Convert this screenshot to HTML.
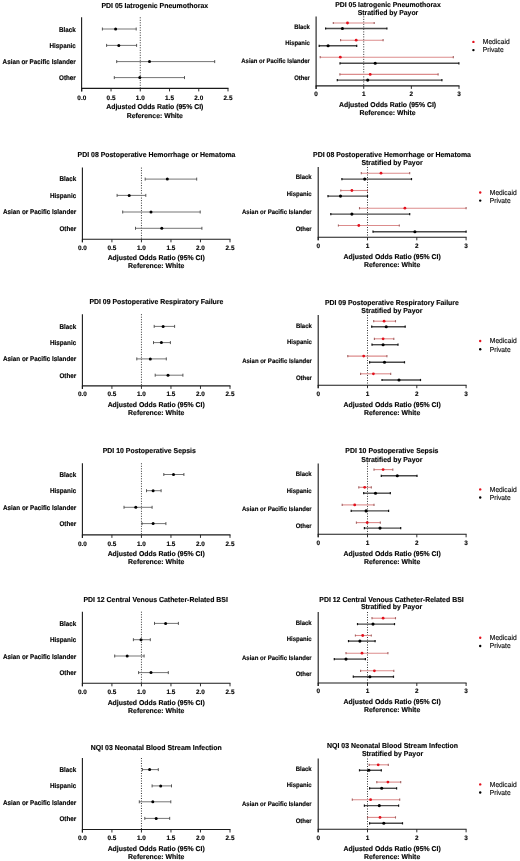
<!DOCTYPE html>
<html><head><meta charset="utf-8"><style>
html,body{margin:0;padding:0;background:#fff;width:520px;height:861px;overflow:hidden;}
svg{display:block;font-family:"Liberation Sans", sans-serif;will-change:transform;text-rendering:geometricPrecision;}
text{stroke:#000;stroke-width:0.15px;}
</style></head><body>
<svg width="520" height="861" viewBox="0 0 520 861">
<text x="154.80" y="7.98" font-size="7.2" text-anchor="middle" font-weight="bold" fill="#000" textLength="106.67" lengthAdjust="spacingAndGlyphs">PDI 05 Iatrogenic Pneumothorax</text>
<line x1="81.60" y1="17.30" x2="81.60" y2="91.40" stroke="#1a1a1a" stroke-width="1.1"/>
<line x1="81.10" y1="88.40" x2="228.50" y2="88.40" stroke="#1a1a1a" stroke-width="1.1"/>
<line x1="81.80" y1="88.40" x2="81.80" y2="91.40" stroke="#1a1a1a" stroke-width="0.9"/>
<text x="81.80" y="99.64" font-size="6.5" text-anchor="middle" font-weight="bold" fill="#000" textLength="8.90" lengthAdjust="spacingAndGlyphs">0.0</text>
<line x1="111.04" y1="88.40" x2="111.04" y2="91.40" stroke="#1a1a1a" stroke-width="0.9"/>
<text x="111.04" y="99.64" font-size="6.5" text-anchor="middle" font-weight="bold" fill="#000" textLength="8.90" lengthAdjust="spacingAndGlyphs">0.5</text>
<line x1="140.28" y1="88.40" x2="140.28" y2="91.40" stroke="#1a1a1a" stroke-width="0.9"/>
<text x="140.28" y="99.64" font-size="6.5" text-anchor="middle" font-weight="bold" fill="#000" textLength="8.90" lengthAdjust="spacingAndGlyphs">1.0</text>
<line x1="169.52" y1="88.40" x2="169.52" y2="91.40" stroke="#1a1a1a" stroke-width="0.9"/>
<text x="169.52" y="99.64" font-size="6.5" text-anchor="middle" font-weight="bold" fill="#000" textLength="8.90" lengthAdjust="spacingAndGlyphs">1.5</text>
<line x1="198.76" y1="88.40" x2="198.76" y2="91.40" stroke="#1a1a1a" stroke-width="0.9"/>
<text x="198.76" y="99.64" font-size="6.5" text-anchor="middle" font-weight="bold" fill="#000" textLength="8.90" lengthAdjust="spacingAndGlyphs">2.0</text>
<line x1="228.00" y1="88.40" x2="228.00" y2="91.40" stroke="#1a1a1a" stroke-width="0.9"/>
<text x="228.00" y="99.64" font-size="6.5" text-anchor="middle" font-weight="bold" fill="#000" textLength="8.90" lengthAdjust="spacingAndGlyphs">2.5</text>
<line x1="140.28" y1="17.30" x2="140.28" y2="88.40" stroke="#333" stroke-width="1.0" stroke-dasharray="1 1.5"/>
<text x="154.80" y="109.41" font-size="7.0" text-anchor="middle" font-weight="bold" fill="#000" textLength="97.09" lengthAdjust="spacingAndGlyphs">Adjusted Odds Ratio (95% CI)</text>
<text x="154.80" y="117.91" font-size="7.0" text-anchor="middle" font-weight="bold" fill="#000" textLength="56.20" lengthAdjust="spacingAndGlyphs">Reference: White</text>
<text x="75.80" y="31.94" font-size="6.8" text-anchor="end" font-weight="bold" fill="#000" textLength="16.81" lengthAdjust="spacingAndGlyphs">Black</text>
<text x="75.80" y="47.84" font-size="6.8" text-anchor="end" font-weight="bold" fill="#000" textLength="26.26" lengthAdjust="spacingAndGlyphs">Hispanic</text>
<text x="75.80" y="63.84" font-size="6.8" text-anchor="end" font-weight="bold" fill="#000" textLength="73.18" lengthAdjust="spacingAndGlyphs">Asian or Pacific Islander</text>
<text x="75.80" y="80.24" font-size="6.8" text-anchor="end" font-weight="bold" fill="#000" textLength="16.80" lengthAdjust="spacingAndGlyphs">Other</text>
<line x1="102.40" y1="29.00" x2="136.20" y2="29.00" stroke="#6e6e6e" stroke-width="0.95"/>
<line x1="102.40" y1="27.50" x2="102.40" y2="30.50" stroke="#444" stroke-width="0.9"/>
<line x1="136.20" y1="27.50" x2="136.20" y2="30.50" stroke="#444" stroke-width="0.9"/>
<circle cx="115.60" cy="29.00" r="1.5" fill="#000"/>
<line x1="106.60" y1="45.40" x2="136.60" y2="45.40" stroke="#6e6e6e" stroke-width="0.95"/>
<line x1="106.60" y1="43.90" x2="106.60" y2="46.90" stroke="#444" stroke-width="0.9"/>
<line x1="136.60" y1="43.90" x2="136.60" y2="46.90" stroke="#444" stroke-width="0.9"/>
<circle cx="118.80" cy="45.40" r="1.5" fill="#000"/>
<line x1="116.70" y1="61.60" x2="214.70" y2="61.60" stroke="#6e6e6e" stroke-width="0.95"/>
<line x1="116.70" y1="60.10" x2="116.70" y2="63.10" stroke="#444" stroke-width="0.9"/>
<line x1="214.70" y1="60.10" x2="214.70" y2="63.10" stroke="#444" stroke-width="0.9"/>
<circle cx="149.50" cy="61.60" r="1.5" fill="#000"/>
<line x1="114.30" y1="77.60" x2="184.50" y2="77.60" stroke="#6e6e6e" stroke-width="0.95"/>
<line x1="114.30" y1="76.10" x2="114.30" y2="79.10" stroke="#444" stroke-width="0.9"/>
<line x1="184.50" y1="76.10" x2="184.50" y2="79.10" stroke="#444" stroke-width="0.9"/>
<circle cx="139.80" cy="77.60" r="1.5" fill="#000"/>
<text x="388.00" y="7.04" font-size="7.1" text-anchor="middle" font-weight="bold" fill="#000" textLength="105.44" lengthAdjust="spacingAndGlyphs">PDI 05 Iatrogenic Pneumothorax</text>
<text x="388.00" y="15.24" font-size="7.1" text-anchor="middle" font-weight="bold" fill="#000" textLength="60.53" lengthAdjust="spacingAndGlyphs">Stratified by Payor</text>
<line x1="316.10" y1="16.40" x2="316.10" y2="88.90" stroke="#1a1a1a" stroke-width="1.1"/>
<line x1="315.60" y1="85.90" x2="459.50" y2="85.90" stroke="#1a1a1a" stroke-width="1.1"/>
<line x1="316.10" y1="85.90" x2="316.10" y2="88.90" stroke="#1a1a1a" stroke-width="0.9"/>
<text x="316.10" y="96.24" font-size="6.5" text-anchor="middle" font-weight="bold" fill="#000" textLength="3.56" lengthAdjust="spacingAndGlyphs">0</text>
<line x1="363.73" y1="85.90" x2="363.73" y2="88.90" stroke="#1a1a1a" stroke-width="0.9"/>
<text x="363.73" y="96.24" font-size="6.5" text-anchor="middle" font-weight="bold" fill="#000" textLength="3.56" lengthAdjust="spacingAndGlyphs">1</text>
<line x1="411.37" y1="85.90" x2="411.37" y2="88.90" stroke="#1a1a1a" stroke-width="0.9"/>
<text x="411.37" y="96.24" font-size="6.5" text-anchor="middle" font-weight="bold" fill="#000" textLength="3.56" lengthAdjust="spacingAndGlyphs">2</text>
<line x1="459.00" y1="85.90" x2="459.00" y2="88.90" stroke="#1a1a1a" stroke-width="0.9"/>
<text x="459.00" y="96.24" font-size="6.5" text-anchor="middle" font-weight="bold" fill="#000" textLength="3.56" lengthAdjust="spacingAndGlyphs">3</text>
<line x1="363.73" y1="16.40" x2="363.73" y2="85.90" stroke="#333" stroke-width="1.0" stroke-dasharray="1 1.5"/>
<text x="387.55" y="106.91" font-size="7.0" text-anchor="middle" font-weight="bold" fill="#000" textLength="97.09" lengthAdjust="spacingAndGlyphs">Adjusted Odds Ratio (95% CI)</text>
<text x="387.55" y="115.41" font-size="7.0" text-anchor="middle" font-weight="bold" fill="#000" textLength="56.20" lengthAdjust="spacingAndGlyphs">Reference: White</text>
<text x="309.90" y="29.07" font-size="6.6" text-anchor="end" font-weight="bold" fill="#000" textLength="15.74" lengthAdjust="spacingAndGlyphs">Black</text>
<text x="309.90" y="44.97" font-size="6.6" text-anchor="end" font-weight="bold" fill="#000" textLength="24.59" lengthAdjust="spacingAndGlyphs">Hispanic</text>
<text x="309.90" y="63.17" font-size="6.6" text-anchor="end" font-weight="bold" fill="#000" textLength="68.53" lengthAdjust="spacingAndGlyphs">Asian or Pacific Islander</text>
<text x="309.90" y="79.57" font-size="6.6" text-anchor="end" font-weight="bold" fill="#000" textLength="15.74" lengthAdjust="spacingAndGlyphs">Other</text>
<line x1="333.30" y1="23.00" x2="374.20" y2="23.00" stroke="#dc8c8c" stroke-width="1.1"/>
<line x1="333.30" y1="21.90" x2="333.30" y2="24.10" stroke="#a06060" stroke-width="1.1"/>
<line x1="374.20" y1="21.90" x2="374.20" y2="24.10" stroke="#a06060" stroke-width="1.1"/>
<circle cx="347.50" cy="23.00" r="1.4" fill="#e3101c"/>
<line x1="325.60" y1="28.50" x2="386.90" y2="28.50" stroke="#4a4a4a" stroke-width="1.4"/>
<line x1="325.60" y1="27.40" x2="325.60" y2="29.60" stroke="#111" stroke-width="1.2"/>
<line x1="386.90" y1="27.40" x2="386.90" y2="29.60" stroke="#111" stroke-width="1.2"/>
<circle cx="342.40" cy="28.50" r="1.55" fill="#000"/>
<line x1="340.60" y1="40.20" x2="383.10" y2="40.20" stroke="#dc8c8c" stroke-width="1.1"/>
<line x1="340.60" y1="39.10" x2="340.60" y2="41.30" stroke="#a06060" stroke-width="1.1"/>
<line x1="383.10" y1="39.10" x2="383.10" y2="41.30" stroke="#a06060" stroke-width="1.1"/>
<circle cx="356.20" cy="40.20" r="1.4" fill="#e3101c"/>
<line x1="319.20" y1="45.80" x2="356.70" y2="45.80" stroke="#4a4a4a" stroke-width="1.4"/>
<line x1="319.20" y1="44.70" x2="319.20" y2="46.90" stroke="#111" stroke-width="1.2"/>
<line x1="356.70" y1="44.70" x2="356.70" y2="46.90" stroke="#111" stroke-width="1.2"/>
<circle cx="328.10" cy="45.80" r="1.55" fill="#000"/>
<line x1="320.20" y1="57.20" x2="453.30" y2="57.20" stroke="#dc8c8c" stroke-width="1.1"/>
<line x1="320.20" y1="56.10" x2="320.20" y2="58.30" stroke="#a06060" stroke-width="1.1"/>
<line x1="453.30" y1="56.10" x2="453.30" y2="58.30" stroke="#a06060" stroke-width="1.1"/>
<circle cx="340.30" cy="57.20" r="1.4" fill="#e3101c"/>
<line x1="340.00" y1="63.30" x2="458.90" y2="63.30" stroke="#4a4a4a" stroke-width="1.4"/>
<line x1="340.00" y1="62.20" x2="340.00" y2="64.40" stroke="#111" stroke-width="1.2"/>
<line x1="458.90" y1="62.20" x2="458.90" y2="64.40" stroke="#111" stroke-width="1.2"/>
<circle cx="375.20" cy="63.30" r="1.55" fill="#000"/>
<line x1="339.90" y1="74.40" x2="438.10" y2="74.40" stroke="#dc8c8c" stroke-width="1.1"/>
<line x1="339.90" y1="73.30" x2="339.90" y2="75.50" stroke="#a06060" stroke-width="1.1"/>
<line x1="438.10" y1="73.30" x2="438.10" y2="75.50" stroke="#a06060" stroke-width="1.1"/>
<circle cx="370.20" cy="74.40" r="1.4" fill="#e3101c"/>
<line x1="337.30" y1="80.10" x2="441.90" y2="80.10" stroke="#4a4a4a" stroke-width="1.4"/>
<line x1="337.30" y1="79.00" x2="337.30" y2="81.20" stroke="#111" stroke-width="1.2"/>
<line x1="441.90" y1="79.00" x2="441.90" y2="81.20" stroke="#111" stroke-width="1.2"/>
<circle cx="367.70" cy="80.10" r="1.55" fill="#000"/>
<circle cx="473.40" cy="41.90" r="1.2" fill="#e3101c"/>
<circle cx="473.40" cy="50.10" r="1.2" fill="#000"/>
<text x="482.80" y="44.38" font-size="7.2" text-anchor="start" font-weight="normal" fill="#111" textLength="26.81" lengthAdjust="spacingAndGlyphs">Medicaid</text>
<text x="482.80" y="51.88" font-size="7.2" text-anchor="start" font-weight="normal" fill="#111" textLength="20.85" lengthAdjust="spacingAndGlyphs">Private</text>
<text x="156.50" y="157.38" font-size="7.2" text-anchor="middle" font-weight="bold" fill="#000" textLength="157.90" lengthAdjust="spacingAndGlyphs">PDI 08 Postoperative Hemorrhage or Hematoma</text>
<line x1="82.40" y1="167.60" x2="82.40" y2="242.30" stroke="#1a1a1a" stroke-width="1.1"/>
<line x1="81.90" y1="239.30" x2="230.50" y2="239.30" stroke="#1a1a1a" stroke-width="1.1"/>
<line x1="82.40" y1="239.30" x2="82.40" y2="242.30" stroke="#1a1a1a" stroke-width="0.9"/>
<text x="82.40" y="249.54" font-size="6.5" text-anchor="middle" font-weight="bold" fill="#000" textLength="8.90" lengthAdjust="spacingAndGlyphs">0.0</text>
<line x1="111.92" y1="239.30" x2="111.92" y2="242.30" stroke="#1a1a1a" stroke-width="0.9"/>
<text x="111.92" y="249.54" font-size="6.5" text-anchor="middle" font-weight="bold" fill="#000" textLength="8.90" lengthAdjust="spacingAndGlyphs">0.5</text>
<line x1="141.44" y1="239.30" x2="141.44" y2="242.30" stroke="#1a1a1a" stroke-width="0.9"/>
<text x="141.44" y="249.54" font-size="6.5" text-anchor="middle" font-weight="bold" fill="#000" textLength="8.90" lengthAdjust="spacingAndGlyphs">1.0</text>
<line x1="170.96" y1="239.30" x2="170.96" y2="242.30" stroke="#1a1a1a" stroke-width="0.9"/>
<text x="170.96" y="249.54" font-size="6.5" text-anchor="middle" font-weight="bold" fill="#000" textLength="8.90" lengthAdjust="spacingAndGlyphs">1.5</text>
<line x1="200.48" y1="239.30" x2="200.48" y2="242.30" stroke="#1a1a1a" stroke-width="0.9"/>
<text x="200.48" y="249.54" font-size="6.5" text-anchor="middle" font-weight="bold" fill="#000" textLength="8.90" lengthAdjust="spacingAndGlyphs">2.0</text>
<line x1="230.00" y1="239.30" x2="230.00" y2="242.30" stroke="#1a1a1a" stroke-width="0.9"/>
<text x="230.00" y="249.54" font-size="6.5" text-anchor="middle" font-weight="bold" fill="#000" textLength="8.90" lengthAdjust="spacingAndGlyphs">2.5</text>
<line x1="141.44" y1="167.60" x2="141.44" y2="239.30" stroke="#333" stroke-width="1.0" stroke-dasharray="1 1.5"/>
<text x="156.20" y="260.11" font-size="7.0" text-anchor="middle" font-weight="bold" fill="#000" textLength="97.09" lengthAdjust="spacingAndGlyphs">Adjusted Odds Ratio (95% CI)</text>
<text x="156.20" y="268.01" font-size="7.0" text-anchor="middle" font-weight="bold" fill="#000" textLength="56.20" lengthAdjust="spacingAndGlyphs">Reference: White</text>
<text x="76.20" y="181.14" font-size="6.8" text-anchor="end" font-weight="bold" fill="#000" textLength="16.81" lengthAdjust="spacingAndGlyphs">Black</text>
<text x="76.20" y="197.94" font-size="6.8" text-anchor="end" font-weight="bold" fill="#000" textLength="26.26" lengthAdjust="spacingAndGlyphs">Hispanic</text>
<text x="76.20" y="214.04" font-size="6.8" text-anchor="end" font-weight="bold" fill="#000" textLength="73.18" lengthAdjust="spacingAndGlyphs">Asian or Pacific Islander</text>
<text x="76.20" y="230.64" font-size="6.8" text-anchor="end" font-weight="bold" fill="#000" textLength="16.80" lengthAdjust="spacingAndGlyphs">Other</text>
<line x1="145.20" y1="179.10" x2="196.70" y2="179.10" stroke="#6e6e6e" stroke-width="0.95"/>
<line x1="145.20" y1="177.60" x2="145.20" y2="180.60" stroke="#444" stroke-width="0.9"/>
<line x1="196.70" y1="177.60" x2="196.70" y2="180.60" stroke="#444" stroke-width="0.9"/>
<circle cx="167.30" cy="179.10" r="1.5" fill="#000"/>
<line x1="117.10" y1="195.40" x2="145.80" y2="195.40" stroke="#6e6e6e" stroke-width="0.95"/>
<line x1="117.10" y1="193.90" x2="117.10" y2="196.90" stroke="#444" stroke-width="0.9"/>
<line x1="145.80" y1="193.90" x2="145.80" y2="196.90" stroke="#444" stroke-width="0.9"/>
<circle cx="129.20" cy="195.40" r="1.5" fill="#000"/>
<line x1="122.70" y1="212.00" x2="200.20" y2="212.00" stroke="#6e6e6e" stroke-width="0.95"/>
<line x1="122.70" y1="210.50" x2="122.70" y2="213.50" stroke="#444" stroke-width="0.9"/>
<line x1="200.20" y1="210.50" x2="200.20" y2="213.50" stroke="#444" stroke-width="0.9"/>
<circle cx="151.00" cy="212.00" r="1.5" fill="#000"/>
<line x1="135.50" y1="228.30" x2="201.90" y2="228.30" stroke="#6e6e6e" stroke-width="0.95"/>
<line x1="135.50" y1="226.80" x2="135.50" y2="229.80" stroke="#444" stroke-width="0.9"/>
<line x1="201.90" y1="226.80" x2="201.90" y2="229.80" stroke="#444" stroke-width="0.9"/>
<circle cx="161.80" cy="228.30" r="1.5" fill="#000"/>
<text x="392.00" y="156.98" font-size="7.2" text-anchor="middle" font-weight="bold" fill="#000" textLength="157.90" lengthAdjust="spacingAndGlyphs">PDI 08 Postoperative Hemorrhage or Hematoma</text>
<text x="392.00" y="165.08" font-size="7.2" text-anchor="middle" font-weight="bold" fill="#000" textLength="61.23" lengthAdjust="spacingAndGlyphs">Stratified by Payor</text>
<line x1="318.20" y1="167.00" x2="318.20" y2="240.30" stroke="#1a1a1a" stroke-width="1.1"/>
<line x1="317.70" y1="237.30" x2="466.60" y2="237.30" stroke="#1a1a1a" stroke-width="1.1"/>
<line x1="318.20" y1="237.30" x2="318.20" y2="240.30" stroke="#1a1a1a" stroke-width="0.9"/>
<text x="318.20" y="247.84" font-size="6.5" text-anchor="middle" font-weight="bold" fill="#000" textLength="3.56" lengthAdjust="spacingAndGlyphs">0</text>
<line x1="367.50" y1="237.30" x2="367.50" y2="240.30" stroke="#1a1a1a" stroke-width="0.9"/>
<text x="367.50" y="247.84" font-size="6.5" text-anchor="middle" font-weight="bold" fill="#000" textLength="3.56" lengthAdjust="spacingAndGlyphs">1</text>
<line x1="416.80" y1="237.30" x2="416.80" y2="240.30" stroke="#1a1a1a" stroke-width="0.9"/>
<text x="416.80" y="247.84" font-size="6.5" text-anchor="middle" font-weight="bold" fill="#000" textLength="3.56" lengthAdjust="spacingAndGlyphs">2</text>
<line x1="466.10" y1="237.30" x2="466.10" y2="240.30" stroke="#1a1a1a" stroke-width="0.9"/>
<text x="466.10" y="247.84" font-size="6.5" text-anchor="middle" font-weight="bold" fill="#000" textLength="3.56" lengthAdjust="spacingAndGlyphs">3</text>
<line x1="367.50" y1="167.00" x2="367.50" y2="237.30" stroke="#333" stroke-width="1.0" stroke-dasharray="1 1.5"/>
<text x="392.15" y="259.01" font-size="7.0" text-anchor="middle" font-weight="bold" fill="#000" textLength="97.09" lengthAdjust="spacingAndGlyphs">Adjusted Odds Ratio (95% CI)</text>
<text x="392.15" y="267.01" font-size="7.0" text-anchor="middle" font-weight="bold" fill="#000" textLength="56.20" lengthAdjust="spacingAndGlyphs">Reference: White</text>
<text x="311.70" y="179.07" font-size="6.6" text-anchor="end" font-weight="bold" fill="#000" textLength="16.01" lengthAdjust="spacingAndGlyphs">Black</text>
<text x="311.70" y="195.97" font-size="6.6" text-anchor="end" font-weight="bold" fill="#000" textLength="25.01" lengthAdjust="spacingAndGlyphs">Hispanic</text>
<text x="311.70" y="214.27" font-size="6.6" text-anchor="end" font-weight="bold" fill="#000" textLength="69.69" lengthAdjust="spacingAndGlyphs">Asian or Pacific Islander</text>
<text x="311.70" y="230.97" font-size="6.6" text-anchor="end" font-weight="bold" fill="#000" textLength="16.00" lengthAdjust="spacingAndGlyphs">Other</text>
<line x1="361.30" y1="173.20" x2="409.70" y2="173.20" stroke="#dc8c8c" stroke-width="1.1"/>
<line x1="361.30" y1="172.10" x2="361.30" y2="174.30" stroke="#a06060" stroke-width="1.1"/>
<line x1="409.70" y1="172.10" x2="409.70" y2="174.30" stroke="#a06060" stroke-width="1.1"/>
<circle cx="381.00" cy="173.20" r="1.4" fill="#e3101c"/>
<line x1="341.90" y1="179.10" x2="411.50" y2="179.10" stroke="#4a4a4a" stroke-width="1.4"/>
<line x1="341.90" y1="178.00" x2="341.90" y2="180.20" stroke="#111" stroke-width="1.2"/>
<line x1="411.50" y1="178.00" x2="411.50" y2="180.20" stroke="#111" stroke-width="1.2"/>
<circle cx="364.70" cy="179.10" r="1.55" fill="#000"/>
<line x1="340.80" y1="190.50" x2="367.50" y2="190.50" stroke="#dc8c8c" stroke-width="1.1"/>
<line x1="340.80" y1="189.40" x2="340.80" y2="191.60" stroke="#a06060" stroke-width="1.1"/>
<line x1="367.50" y1="189.40" x2="367.50" y2="191.60" stroke="#a06060" stroke-width="1.1"/>
<circle cx="351.90" cy="190.50" r="1.4" fill="#e3101c"/>
<line x1="328.00" y1="196.10" x2="367.50" y2="196.10" stroke="#4a4a4a" stroke-width="1.4"/>
<line x1="328.00" y1="195.00" x2="328.00" y2="197.20" stroke="#111" stroke-width="1.2"/>
<line x1="367.50" y1="195.00" x2="367.50" y2="197.20" stroke="#111" stroke-width="1.2"/>
<circle cx="340.50" cy="196.10" r="1.55" fill="#000"/>
<line x1="359.50" y1="208.20" x2="466.10" y2="208.20" stroke="#dc8c8c" stroke-width="1.1"/>
<line x1="359.50" y1="207.10" x2="359.50" y2="209.30" stroke="#a06060" stroke-width="1.1"/>
<line x1="466.10" y1="207.10" x2="466.10" y2="209.30" stroke="#a06060" stroke-width="1.1"/>
<circle cx="404.90" cy="208.20" r="1.4" fill="#e3101c"/>
<line x1="330.80" y1="214.10" x2="409.70" y2="214.10" stroke="#4a4a4a" stroke-width="1.4"/>
<line x1="330.80" y1="213.00" x2="330.80" y2="215.20" stroke="#111" stroke-width="1.2"/>
<line x1="409.70" y1="213.00" x2="409.70" y2="215.20" stroke="#111" stroke-width="1.2"/>
<circle cx="351.90" cy="214.10" r="1.55" fill="#000"/>
<line x1="338.40" y1="225.50" x2="399.30" y2="225.50" stroke="#dc8c8c" stroke-width="1.1"/>
<line x1="338.40" y1="224.40" x2="338.40" y2="226.60" stroke="#a06060" stroke-width="1.1"/>
<line x1="399.30" y1="224.40" x2="399.30" y2="226.60" stroke="#a06060" stroke-width="1.1"/>
<circle cx="358.80" cy="225.50" r="1.4" fill="#e3101c"/>
<line x1="373.00" y1="231.70" x2="466.10" y2="231.70" stroke="#4a4a4a" stroke-width="1.4"/>
<line x1="373.00" y1="230.60" x2="373.00" y2="232.80" stroke="#111" stroke-width="1.2"/>
<line x1="466.10" y1="230.60" x2="466.10" y2="232.80" stroke="#111" stroke-width="1.2"/>
<circle cx="414.90" cy="231.70" r="1.55" fill="#000"/>
<circle cx="480.20" cy="192.50" r="1.2" fill="#e3101c"/>
<circle cx="480.20" cy="200.60" r="1.2" fill="#000"/>
<text x="489.80" y="194.98" font-size="7.2" text-anchor="start" font-weight="normal" fill="#111" textLength="26.81" lengthAdjust="spacingAndGlyphs">Medicaid</text>
<text x="489.80" y="203.08" font-size="7.2" text-anchor="start" font-weight="normal" fill="#111" textLength="20.85" lengthAdjust="spacingAndGlyphs">Private</text>
<text x="156.40" y="304.18" font-size="7.2" text-anchor="middle" font-weight="bold" fill="#000" textLength="134.03" lengthAdjust="spacingAndGlyphs">PDI 09 Postoperative Respiratory Failure</text>
<line x1="82.40" y1="314.20" x2="82.40" y2="388.90" stroke="#1a1a1a" stroke-width="1.1"/>
<line x1="81.90" y1="385.90" x2="230.50" y2="385.90" stroke="#1a1a1a" stroke-width="1.1"/>
<line x1="82.40" y1="385.90" x2="82.40" y2="388.90" stroke="#1a1a1a" stroke-width="0.9"/>
<text x="82.40" y="396.04" font-size="6.5" text-anchor="middle" font-weight="bold" fill="#000" textLength="8.90" lengthAdjust="spacingAndGlyphs">0.0</text>
<line x1="111.92" y1="385.90" x2="111.92" y2="388.90" stroke="#1a1a1a" stroke-width="0.9"/>
<text x="111.92" y="396.04" font-size="6.5" text-anchor="middle" font-weight="bold" fill="#000" textLength="8.90" lengthAdjust="spacingAndGlyphs">0.5</text>
<line x1="141.44" y1="385.90" x2="141.44" y2="388.90" stroke="#1a1a1a" stroke-width="0.9"/>
<text x="141.44" y="396.04" font-size="6.5" text-anchor="middle" font-weight="bold" fill="#000" textLength="8.90" lengthAdjust="spacingAndGlyphs">1.0</text>
<line x1="170.96" y1="385.90" x2="170.96" y2="388.90" stroke="#1a1a1a" stroke-width="0.9"/>
<text x="170.96" y="396.04" font-size="6.5" text-anchor="middle" font-weight="bold" fill="#000" textLength="8.90" lengthAdjust="spacingAndGlyphs">1.5</text>
<line x1="200.48" y1="385.90" x2="200.48" y2="388.90" stroke="#1a1a1a" stroke-width="0.9"/>
<text x="200.48" y="396.04" font-size="6.5" text-anchor="middle" font-weight="bold" fill="#000" textLength="8.90" lengthAdjust="spacingAndGlyphs">2.0</text>
<line x1="230.00" y1="385.90" x2="230.00" y2="388.90" stroke="#1a1a1a" stroke-width="0.9"/>
<text x="230.00" y="396.04" font-size="6.5" text-anchor="middle" font-weight="bold" fill="#000" textLength="8.90" lengthAdjust="spacingAndGlyphs">2.5</text>
<line x1="141.44" y1="314.20" x2="141.44" y2="385.90" stroke="#333" stroke-width="1.0" stroke-dasharray="1 1.5"/>
<text x="156.20" y="407.01" font-size="7.0" text-anchor="middle" font-weight="bold" fill="#000" textLength="97.09" lengthAdjust="spacingAndGlyphs">Adjusted Odds Ratio (95% CI)</text>
<text x="156.20" y="414.91" font-size="7.0" text-anchor="middle" font-weight="bold" fill="#000" textLength="56.20" lengthAdjust="spacingAndGlyphs">Reference: White</text>
<text x="76.20" y="328.74" font-size="6.8" text-anchor="end" font-weight="bold" fill="#000" textLength="16.81" lengthAdjust="spacingAndGlyphs">Black</text>
<text x="76.20" y="344.94" font-size="6.8" text-anchor="end" font-weight="bold" fill="#000" textLength="26.26" lengthAdjust="spacingAndGlyphs">Hispanic</text>
<text x="76.20" y="361.24" font-size="6.8" text-anchor="end" font-weight="bold" fill="#000" textLength="73.18" lengthAdjust="spacingAndGlyphs">Asian or Pacific Islander</text>
<text x="76.20" y="377.54" font-size="6.8" text-anchor="end" font-weight="bold" fill="#000" textLength="16.80" lengthAdjust="spacingAndGlyphs">Other</text>
<line x1="154.20" y1="326.40" x2="174.60" y2="326.40" stroke="#6e6e6e" stroke-width="0.95"/>
<line x1="154.20" y1="324.90" x2="154.20" y2="327.90" stroke="#444" stroke-width="0.9"/>
<line x1="174.60" y1="324.90" x2="174.60" y2="327.90" stroke="#444" stroke-width="0.9"/>
<circle cx="163.10" cy="326.40" r="1.5" fill="#000"/>
<line x1="153.50" y1="342.60" x2="170.40" y2="342.60" stroke="#6e6e6e" stroke-width="0.95"/>
<line x1="153.50" y1="341.10" x2="153.50" y2="344.10" stroke="#444" stroke-width="0.9"/>
<line x1="170.40" y1="341.10" x2="170.40" y2="344.10" stroke="#444" stroke-width="0.9"/>
<circle cx="161.40" cy="342.60" r="1.5" fill="#000"/>
<line x1="136.80" y1="358.90" x2="166.30" y2="358.90" stroke="#6e6e6e" stroke-width="0.95"/>
<line x1="136.80" y1="357.40" x2="136.80" y2="360.40" stroke="#444" stroke-width="0.9"/>
<line x1="166.30" y1="357.40" x2="166.30" y2="360.40" stroke="#444" stroke-width="0.9"/>
<circle cx="150.30" cy="358.90" r="1.5" fill="#000"/>
<line x1="155.20" y1="375.20" x2="182.90" y2="375.20" stroke="#6e6e6e" stroke-width="0.95"/>
<line x1="155.20" y1="373.70" x2="155.20" y2="376.70" stroke="#444" stroke-width="0.9"/>
<line x1="182.90" y1="373.70" x2="182.90" y2="376.70" stroke="#444" stroke-width="0.9"/>
<circle cx="168.00" cy="375.20" r="1.5" fill="#000"/>
<text x="391.90" y="305.28" font-size="7.2" text-anchor="middle" font-weight="bold" fill="#000" textLength="134.03" lengthAdjust="spacingAndGlyphs">PDI 09 Postoperative Respiratory Failure</text>
<text x="391.90" y="312.58" font-size="7.2" text-anchor="middle" font-weight="bold" fill="#000" textLength="61.23" lengthAdjust="spacingAndGlyphs">Stratified by Payor</text>
<line x1="318.20" y1="315.00" x2="318.20" y2="388.20" stroke="#1a1a1a" stroke-width="1.1"/>
<line x1="317.70" y1="385.20" x2="466.60" y2="385.20" stroke="#1a1a1a" stroke-width="1.1"/>
<line x1="318.20" y1="385.20" x2="318.20" y2="388.20" stroke="#1a1a1a" stroke-width="0.9"/>
<text x="318.20" y="396.34" font-size="6.5" text-anchor="middle" font-weight="bold" fill="#000" textLength="3.56" lengthAdjust="spacingAndGlyphs">0</text>
<line x1="367.50" y1="385.20" x2="367.50" y2="388.20" stroke="#1a1a1a" stroke-width="0.9"/>
<text x="367.50" y="396.34" font-size="6.5" text-anchor="middle" font-weight="bold" fill="#000" textLength="3.56" lengthAdjust="spacingAndGlyphs">1</text>
<line x1="416.80" y1="385.20" x2="416.80" y2="388.20" stroke="#1a1a1a" stroke-width="0.9"/>
<text x="416.80" y="396.34" font-size="6.5" text-anchor="middle" font-weight="bold" fill="#000" textLength="3.56" lengthAdjust="spacingAndGlyphs">2</text>
<line x1="466.10" y1="385.20" x2="466.10" y2="388.20" stroke="#1a1a1a" stroke-width="0.9"/>
<text x="466.10" y="396.34" font-size="6.5" text-anchor="middle" font-weight="bold" fill="#000" textLength="3.56" lengthAdjust="spacingAndGlyphs">3</text>
<line x1="367.50" y1="315.00" x2="367.50" y2="385.20" stroke="#333" stroke-width="1.0" stroke-dasharray="1 1.5"/>
<text x="392.15" y="407.31" font-size="7.0" text-anchor="middle" font-weight="bold" fill="#000" textLength="97.09" lengthAdjust="spacingAndGlyphs">Adjusted Odds Ratio (95% CI)</text>
<text x="392.15" y="415.31" font-size="7.0" text-anchor="middle" font-weight="bold" fill="#000" textLength="56.20" lengthAdjust="spacingAndGlyphs">Reference: White</text>
<text x="311.90" y="327.87" font-size="6.6" text-anchor="end" font-weight="bold" fill="#000" textLength="16.01" lengthAdjust="spacingAndGlyphs">Black</text>
<text x="311.90" y="344.27" font-size="6.6" text-anchor="end" font-weight="bold" fill="#000" textLength="25.01" lengthAdjust="spacingAndGlyphs">Hispanic</text>
<text x="311.90" y="363.07" font-size="6.6" text-anchor="end" font-weight="bold" fill="#000" textLength="69.69" lengthAdjust="spacingAndGlyphs">Asian or Pacific Islander</text>
<text x="311.90" y="379.67" font-size="6.6" text-anchor="end" font-weight="bold" fill="#000" textLength="16.00" lengthAdjust="spacingAndGlyphs">Other</text>
<line x1="373.70" y1="321.20" x2="395.50" y2="321.20" stroke="#dc8c8c" stroke-width="1.1"/>
<line x1="373.70" y1="320.10" x2="373.70" y2="322.30" stroke="#a06060" stroke-width="1.1"/>
<line x1="395.50" y1="320.10" x2="395.50" y2="322.30" stroke="#a06060" stroke-width="1.1"/>
<circle cx="384.10" cy="321.20" r="1.4" fill="#e3101c"/>
<line x1="371.70" y1="326.70" x2="405.20" y2="326.70" stroke="#4a4a4a" stroke-width="1.4"/>
<line x1="371.70" y1="325.60" x2="371.70" y2="327.80" stroke="#111" stroke-width="1.2"/>
<line x1="405.20" y1="325.60" x2="405.20" y2="327.80" stroke="#111" stroke-width="1.2"/>
<circle cx="386.20" cy="326.70" r="1.55" fill="#000"/>
<line x1="374.40" y1="338.80" x2="393.80" y2="338.80" stroke="#dc8c8c" stroke-width="1.1"/>
<line x1="374.40" y1="337.70" x2="374.40" y2="339.90" stroke="#a06060" stroke-width="1.1"/>
<line x1="393.80" y1="337.70" x2="393.80" y2="339.90" stroke="#a06060" stroke-width="1.1"/>
<circle cx="383.10" cy="338.80" r="1.4" fill="#e3101c"/>
<line x1="372.00" y1="344.70" x2="398.00" y2="344.70" stroke="#4a4a4a" stroke-width="1.4"/>
<line x1="372.00" y1="343.60" x2="372.00" y2="345.80" stroke="#111" stroke-width="1.2"/>
<line x1="398.00" y1="343.60" x2="398.00" y2="345.80" stroke="#111" stroke-width="1.2"/>
<circle cx="383.10" cy="344.70" r="1.55" fill="#000"/>
<line x1="347.80" y1="356.10" x2="386.90" y2="356.10" stroke="#dc8c8c" stroke-width="1.1"/>
<line x1="347.80" y1="355.00" x2="347.80" y2="357.20" stroke="#a06060" stroke-width="1.1"/>
<line x1="386.90" y1="355.00" x2="386.90" y2="357.20" stroke="#a06060" stroke-width="1.1"/>
<circle cx="363.70" cy="356.10" r="1.4" fill="#e3101c"/>
<line x1="369.60" y1="362.30" x2="404.50" y2="362.30" stroke="#4a4a4a" stroke-width="1.4"/>
<line x1="369.60" y1="361.20" x2="369.60" y2="363.40" stroke="#111" stroke-width="1.2"/>
<line x1="404.50" y1="361.20" x2="404.50" y2="363.40" stroke="#111" stroke-width="1.2"/>
<circle cx="384.50" cy="362.30" r="1.55" fill="#000"/>
<line x1="360.60" y1="373.80" x2="390.70" y2="373.80" stroke="#dc8c8c" stroke-width="1.1"/>
<line x1="360.60" y1="372.70" x2="360.60" y2="374.90" stroke="#a06060" stroke-width="1.1"/>
<line x1="390.70" y1="372.70" x2="390.70" y2="374.90" stroke="#a06060" stroke-width="1.1"/>
<circle cx="373.40" cy="373.80" r="1.4" fill="#e3101c"/>
<line x1="382.00" y1="380.00" x2="420.50" y2="380.00" stroke="#4a4a4a" stroke-width="1.4"/>
<line x1="382.00" y1="378.90" x2="382.00" y2="381.10" stroke="#111" stroke-width="1.2"/>
<line x1="420.50" y1="378.90" x2="420.50" y2="381.10" stroke="#111" stroke-width="1.2"/>
<circle cx="399.00" cy="380.00" r="1.55" fill="#000"/>
<circle cx="480.20" cy="341.00" r="1.2" fill="#e3101c"/>
<circle cx="480.20" cy="349.20" r="1.2" fill="#000"/>
<text x="489.80" y="343.48" font-size="7.2" text-anchor="start" font-weight="normal" fill="#111" textLength="26.81" lengthAdjust="spacingAndGlyphs">Medicaid</text>
<text x="489.80" y="351.68" font-size="7.2" text-anchor="start" font-weight="normal" fill="#111" textLength="20.85" lengthAdjust="spacingAndGlyphs">Private</text>
<text x="149.30" y="453.08" font-size="7.2" text-anchor="middle" font-weight="bold" fill="#000" textLength="93.21" lengthAdjust="spacingAndGlyphs">PDI 10 Postoperative Sepsis</text>
<line x1="82.40" y1="463.30" x2="82.40" y2="537.90" stroke="#1a1a1a" stroke-width="1.1"/>
<line x1="81.90" y1="534.90" x2="230.50" y2="534.90" stroke="#1a1a1a" stroke-width="1.1"/>
<line x1="82.40" y1="534.90" x2="82.40" y2="537.90" stroke="#1a1a1a" stroke-width="0.9"/>
<text x="82.40" y="545.84" font-size="6.5" text-anchor="middle" font-weight="bold" fill="#000" textLength="8.90" lengthAdjust="spacingAndGlyphs">0.0</text>
<line x1="111.92" y1="534.90" x2="111.92" y2="537.90" stroke="#1a1a1a" stroke-width="0.9"/>
<text x="111.92" y="545.84" font-size="6.5" text-anchor="middle" font-weight="bold" fill="#000" textLength="8.90" lengthAdjust="spacingAndGlyphs">0.5</text>
<line x1="141.44" y1="534.90" x2="141.44" y2="537.90" stroke="#1a1a1a" stroke-width="0.9"/>
<text x="141.44" y="545.84" font-size="6.5" text-anchor="middle" font-weight="bold" fill="#000" textLength="8.90" lengthAdjust="spacingAndGlyphs">1.0</text>
<line x1="170.96" y1="534.90" x2="170.96" y2="537.90" stroke="#1a1a1a" stroke-width="0.9"/>
<text x="170.96" y="545.84" font-size="6.5" text-anchor="middle" font-weight="bold" fill="#000" textLength="8.90" lengthAdjust="spacingAndGlyphs">1.5</text>
<line x1="200.48" y1="534.90" x2="200.48" y2="537.90" stroke="#1a1a1a" stroke-width="0.9"/>
<text x="200.48" y="545.84" font-size="6.5" text-anchor="middle" font-weight="bold" fill="#000" textLength="8.90" lengthAdjust="spacingAndGlyphs">2.0</text>
<line x1="230.00" y1="534.90" x2="230.00" y2="537.90" stroke="#1a1a1a" stroke-width="0.9"/>
<text x="230.00" y="545.84" font-size="6.5" text-anchor="middle" font-weight="bold" fill="#000" textLength="8.90" lengthAdjust="spacingAndGlyphs">2.5</text>
<line x1="141.44" y1="463.30" x2="141.44" y2="534.90" stroke="#333" stroke-width="1.0" stroke-dasharray="1 1.5"/>
<text x="156.20" y="555.81" font-size="7.0" text-anchor="middle" font-weight="bold" fill="#000" textLength="97.09" lengthAdjust="spacingAndGlyphs">Adjusted Odds Ratio (95% CI)</text>
<text x="156.20" y="564.11" font-size="7.0" text-anchor="middle" font-weight="bold" fill="#000" textLength="56.20" lengthAdjust="spacingAndGlyphs">Reference: White</text>
<text x="76.20" y="476.84" font-size="6.8" text-anchor="end" font-weight="bold" fill="#000" textLength="16.81" lengthAdjust="spacingAndGlyphs">Black</text>
<text x="76.20" y="493.04" font-size="6.8" text-anchor="end" font-weight="bold" fill="#000" textLength="26.26" lengthAdjust="spacingAndGlyphs">Hispanic</text>
<text x="76.20" y="509.64" font-size="6.8" text-anchor="end" font-weight="bold" fill="#000" textLength="73.18" lengthAdjust="spacingAndGlyphs">Asian or Pacific Islander</text>
<text x="76.20" y="525.94" font-size="6.8" text-anchor="end" font-weight="bold" fill="#000" textLength="16.80" lengthAdjust="spacingAndGlyphs">Other</text>
<line x1="163.80" y1="474.50" x2="183.90" y2="474.50" stroke="#6e6e6e" stroke-width="0.95"/>
<line x1="163.80" y1="473.00" x2="163.80" y2="476.00" stroke="#444" stroke-width="0.9"/>
<line x1="183.90" y1="473.00" x2="183.90" y2="476.00" stroke="#444" stroke-width="0.9"/>
<circle cx="173.50" cy="474.50" r="1.5" fill="#000"/>
<line x1="146.50" y1="490.70" x2="161.10" y2="490.70" stroke="#6e6e6e" stroke-width="0.95"/>
<line x1="146.50" y1="489.20" x2="146.50" y2="492.20" stroke="#444" stroke-width="0.9"/>
<line x1="161.10" y1="489.20" x2="161.10" y2="492.20" stroke="#444" stroke-width="0.9"/>
<circle cx="153.10" cy="490.70" r="1.5" fill="#000"/>
<line x1="124.00" y1="507.30" x2="152.10" y2="507.30" stroke="#6e6e6e" stroke-width="0.95"/>
<line x1="124.00" y1="505.80" x2="124.00" y2="508.80" stroke="#444" stroke-width="0.9"/>
<line x1="152.10" y1="505.80" x2="152.10" y2="508.80" stroke="#444" stroke-width="0.9"/>
<circle cx="135.80" cy="507.30" r="1.5" fill="#000"/>
<line x1="142.00" y1="523.60" x2="165.90" y2="523.60" stroke="#6e6e6e" stroke-width="0.95"/>
<line x1="142.00" y1="522.10" x2="142.00" y2="525.10" stroke="#444" stroke-width="0.9"/>
<line x1="165.90" y1="522.10" x2="165.90" y2="525.10" stroke="#444" stroke-width="0.9"/>
<circle cx="153.10" cy="523.60" r="1.5" fill="#000"/>
<text x="391.90" y="453.08" font-size="7.2" text-anchor="middle" font-weight="bold" fill="#000" textLength="93.21" lengthAdjust="spacingAndGlyphs">PDI 10 Postoperative Sepsis</text>
<text x="391.90" y="461.68" font-size="7.2" text-anchor="middle" font-weight="bold" fill="#000" textLength="61.23" lengthAdjust="spacingAndGlyphs">Stratified by Payor</text>
<line x1="318.20" y1="463.40" x2="318.20" y2="537.30" stroke="#1a1a1a" stroke-width="1.1"/>
<line x1="317.70" y1="534.30" x2="466.60" y2="534.30" stroke="#1a1a1a" stroke-width="1.1"/>
<line x1="318.20" y1="534.30" x2="318.20" y2="537.30" stroke="#1a1a1a" stroke-width="0.9"/>
<text x="318.20" y="545.34" font-size="6.5" text-anchor="middle" font-weight="bold" fill="#000" textLength="3.56" lengthAdjust="spacingAndGlyphs">0</text>
<line x1="367.50" y1="534.30" x2="367.50" y2="537.30" stroke="#1a1a1a" stroke-width="0.9"/>
<text x="367.50" y="545.34" font-size="6.5" text-anchor="middle" font-weight="bold" fill="#000" textLength="3.56" lengthAdjust="spacingAndGlyphs">1</text>
<line x1="416.80" y1="534.30" x2="416.80" y2="537.30" stroke="#1a1a1a" stroke-width="0.9"/>
<text x="416.80" y="545.34" font-size="6.5" text-anchor="middle" font-weight="bold" fill="#000" textLength="3.56" lengthAdjust="spacingAndGlyphs">2</text>
<line x1="466.10" y1="534.30" x2="466.10" y2="537.30" stroke="#1a1a1a" stroke-width="0.9"/>
<text x="466.10" y="545.34" font-size="6.5" text-anchor="middle" font-weight="bold" fill="#000" textLength="3.56" lengthAdjust="spacingAndGlyphs">3</text>
<line x1="367.50" y1="463.40" x2="367.50" y2="534.30" stroke="#333" stroke-width="1.0" stroke-dasharray="1 1.5"/>
<text x="392.15" y="556.11" font-size="7.0" text-anchor="middle" font-weight="bold" fill="#000" textLength="97.09" lengthAdjust="spacingAndGlyphs">Adjusted Odds Ratio (95% CI)</text>
<text x="392.15" y="564.11" font-size="7.0" text-anchor="middle" font-weight="bold" fill="#000" textLength="56.20" lengthAdjust="spacingAndGlyphs">Reference: White</text>
<text x="311.70" y="475.97" font-size="6.6" text-anchor="end" font-weight="bold" fill="#000" textLength="16.01" lengthAdjust="spacingAndGlyphs">Black</text>
<text x="311.70" y="492.67" font-size="6.6" text-anchor="end" font-weight="bold" fill="#000" textLength="25.01" lengthAdjust="spacingAndGlyphs">Hispanic</text>
<text x="311.70" y="510.57" font-size="6.6" text-anchor="end" font-weight="bold" fill="#000" textLength="69.69" lengthAdjust="spacingAndGlyphs">Asian or Pacific Islander</text>
<text x="311.70" y="527.57" font-size="6.6" text-anchor="end" font-weight="bold" fill="#000" textLength="16.00" lengthAdjust="spacingAndGlyphs">Other</text>
<line x1="374.00" y1="469.60" x2="392.80" y2="469.60" stroke="#dc8c8c" stroke-width="1.1"/>
<line x1="374.00" y1="468.50" x2="374.00" y2="470.70" stroke="#a06060" stroke-width="1.1"/>
<line x1="392.80" y1="468.50" x2="392.80" y2="470.70" stroke="#a06060" stroke-width="1.1"/>
<circle cx="383.10" cy="469.60" r="1.4" fill="#e3101c"/>
<line x1="381.30" y1="475.80" x2="417.00" y2="475.80" stroke="#4a4a4a" stroke-width="1.4"/>
<line x1="381.30" y1="474.70" x2="381.30" y2="476.90" stroke="#111" stroke-width="1.2"/>
<line x1="417.00" y1="474.70" x2="417.00" y2="476.90" stroke="#111" stroke-width="1.2"/>
<circle cx="397.30" cy="475.80" r="1.55" fill="#000"/>
<line x1="358.80" y1="487.30" x2="371.30" y2="487.30" stroke="#dc8c8c" stroke-width="1.1"/>
<line x1="358.80" y1="486.20" x2="358.80" y2="488.40" stroke="#a06060" stroke-width="1.1"/>
<line x1="371.30" y1="486.20" x2="371.30" y2="488.40" stroke="#a06060" stroke-width="1.1"/>
<circle cx="364.70" cy="487.30" r="1.4" fill="#e3101c"/>
<line x1="363.70" y1="493.20" x2="390.30" y2="493.20" stroke="#4a4a4a" stroke-width="1.4"/>
<line x1="363.70" y1="492.10" x2="363.70" y2="494.30" stroke="#111" stroke-width="1.2"/>
<line x1="390.30" y1="492.10" x2="390.30" y2="494.30" stroke="#111" stroke-width="1.2"/>
<circle cx="375.50" cy="493.20" r="1.55" fill="#000"/>
<line x1="342.20" y1="504.90" x2="374.00" y2="504.90" stroke="#dc8c8c" stroke-width="1.1"/>
<line x1="342.20" y1="503.80" x2="342.20" y2="506.00" stroke="#a06060" stroke-width="1.1"/>
<line x1="374.00" y1="503.80" x2="374.00" y2="506.00" stroke="#a06060" stroke-width="1.1"/>
<circle cx="354.70" cy="504.90" r="1.4" fill="#e3101c"/>
<line x1="351.20" y1="510.90" x2="388.60" y2="510.90" stroke="#4a4a4a" stroke-width="1.4"/>
<line x1="351.20" y1="509.80" x2="351.20" y2="512.00" stroke="#111" stroke-width="1.2"/>
<line x1="388.60" y1="509.80" x2="388.60" y2="512.00" stroke="#111" stroke-width="1.2"/>
<circle cx="366.10" cy="510.90" r="1.55" fill="#000"/>
<line x1="356.40" y1="522.60" x2="380.30" y2="522.60" stroke="#dc8c8c" stroke-width="1.1"/>
<line x1="356.40" y1="521.50" x2="356.40" y2="523.70" stroke="#a06060" stroke-width="1.1"/>
<line x1="380.30" y1="521.50" x2="380.30" y2="523.70" stroke="#a06060" stroke-width="1.1"/>
<circle cx="367.20" cy="522.60" r="1.4" fill="#e3101c"/>
<line x1="364.40" y1="528.10" x2="400.70" y2="528.10" stroke="#4a4a4a" stroke-width="1.4"/>
<line x1="364.40" y1="527.00" x2="364.40" y2="529.20" stroke="#111" stroke-width="1.2"/>
<line x1="400.70" y1="527.00" x2="400.70" y2="529.20" stroke="#111" stroke-width="1.2"/>
<circle cx="380.00" cy="528.10" r="1.55" fill="#000"/>
<circle cx="480.20" cy="489.40" r="1.2" fill="#e3101c"/>
<circle cx="480.20" cy="497.50" r="1.2" fill="#000"/>
<text x="489.80" y="491.88" font-size="7.2" text-anchor="start" font-weight="normal" fill="#111" textLength="26.81" lengthAdjust="spacingAndGlyphs">Medicaid</text>
<text x="489.80" y="499.98" font-size="7.2" text-anchor="start" font-weight="normal" fill="#111" textLength="20.85" lengthAdjust="spacingAndGlyphs">Private</text>
<text x="155.70" y="601.98" font-size="7.2" text-anchor="middle" font-weight="bold" fill="#000" textLength="144.42" lengthAdjust="spacingAndGlyphs">PDI 12 Central Venous Catheter-Related BSI</text>
<line x1="82.40" y1="611.70" x2="82.40" y2="686.30" stroke="#1a1a1a" stroke-width="1.1"/>
<line x1="81.90" y1="683.30" x2="230.50" y2="683.30" stroke="#1a1a1a" stroke-width="1.1"/>
<line x1="82.40" y1="683.30" x2="82.40" y2="686.30" stroke="#1a1a1a" stroke-width="0.9"/>
<text x="82.40" y="694.24" font-size="6.5" text-anchor="middle" font-weight="bold" fill="#000" textLength="8.90" lengthAdjust="spacingAndGlyphs">0.0</text>
<line x1="111.92" y1="683.30" x2="111.92" y2="686.30" stroke="#1a1a1a" stroke-width="0.9"/>
<text x="111.92" y="694.24" font-size="6.5" text-anchor="middle" font-weight="bold" fill="#000" textLength="8.90" lengthAdjust="spacingAndGlyphs">0.5</text>
<line x1="141.44" y1="683.30" x2="141.44" y2="686.30" stroke="#1a1a1a" stroke-width="0.9"/>
<text x="141.44" y="694.24" font-size="6.5" text-anchor="middle" font-weight="bold" fill="#000" textLength="8.90" lengthAdjust="spacingAndGlyphs">1.0</text>
<line x1="170.96" y1="683.30" x2="170.96" y2="686.30" stroke="#1a1a1a" stroke-width="0.9"/>
<text x="170.96" y="694.24" font-size="6.5" text-anchor="middle" font-weight="bold" fill="#000" textLength="8.90" lengthAdjust="spacingAndGlyphs">1.5</text>
<line x1="200.48" y1="683.30" x2="200.48" y2="686.30" stroke="#1a1a1a" stroke-width="0.9"/>
<text x="200.48" y="694.24" font-size="6.5" text-anchor="middle" font-weight="bold" fill="#000" textLength="8.90" lengthAdjust="spacingAndGlyphs">2.0</text>
<line x1="230.00" y1="683.30" x2="230.00" y2="686.30" stroke="#1a1a1a" stroke-width="0.9"/>
<text x="230.00" y="694.24" font-size="6.5" text-anchor="middle" font-weight="bold" fill="#000" textLength="8.90" lengthAdjust="spacingAndGlyphs">2.5</text>
<line x1="141.44" y1="611.70" x2="141.44" y2="683.30" stroke="#333" stroke-width="1.0" stroke-dasharray="1 1.5"/>
<text x="156.20" y="704.71" font-size="7.0" text-anchor="middle" font-weight="bold" fill="#000" textLength="97.09" lengthAdjust="spacingAndGlyphs">Adjusted Odds Ratio (95% CI)</text>
<text x="156.20" y="713.01" font-size="7.0" text-anchor="middle" font-weight="bold" fill="#000" textLength="56.20" lengthAdjust="spacingAndGlyphs">Reference: White</text>
<text x="76.20" y="625.74" font-size="6.8" text-anchor="end" font-weight="bold" fill="#000" textLength="16.81" lengthAdjust="spacingAndGlyphs">Black</text>
<text x="76.20" y="642.04" font-size="6.8" text-anchor="end" font-weight="bold" fill="#000" textLength="26.26" lengthAdjust="spacingAndGlyphs">Hispanic</text>
<text x="76.20" y="659.04" font-size="6.8" text-anchor="end" font-weight="bold" fill="#000" textLength="73.18" lengthAdjust="spacingAndGlyphs">Asian or Pacific Islander</text>
<text x="76.20" y="674.94" font-size="6.8" text-anchor="end" font-weight="bold" fill="#000" textLength="16.80" lengthAdjust="spacingAndGlyphs">Other</text>
<line x1="154.50" y1="623.40" x2="178.40" y2="623.40" stroke="#6e6e6e" stroke-width="0.95"/>
<line x1="154.50" y1="621.90" x2="154.50" y2="624.90" stroke="#444" stroke-width="0.9"/>
<line x1="178.40" y1="621.90" x2="178.40" y2="624.90" stroke="#444" stroke-width="0.9"/>
<circle cx="165.60" cy="623.40" r="1.5" fill="#000"/>
<line x1="133.40" y1="639.70" x2="150.30" y2="639.70" stroke="#6e6e6e" stroke-width="0.95"/>
<line x1="133.40" y1="638.20" x2="133.40" y2="641.20" stroke="#444" stroke-width="0.9"/>
<line x1="150.30" y1="638.20" x2="150.30" y2="641.20" stroke="#444" stroke-width="0.9"/>
<circle cx="141.00" cy="639.70" r="1.5" fill="#000"/>
<line x1="114.70" y1="656.00" x2="144.10" y2="656.00" stroke="#6e6e6e" stroke-width="0.95"/>
<line x1="114.70" y1="654.50" x2="114.70" y2="657.50" stroke="#444" stroke-width="0.9"/>
<line x1="144.10" y1="654.50" x2="144.10" y2="657.50" stroke="#444" stroke-width="0.9"/>
<circle cx="127.20" cy="656.00" r="1.5" fill="#000"/>
<line x1="138.60" y1="672.60" x2="168.30" y2="672.60" stroke="#6e6e6e" stroke-width="0.95"/>
<line x1="138.60" y1="671.10" x2="138.60" y2="674.10" stroke="#444" stroke-width="0.9"/>
<line x1="168.30" y1="671.10" x2="168.30" y2="674.10" stroke="#444" stroke-width="0.9"/>
<circle cx="151.00" cy="672.60" r="1.5" fill="#000"/>
<text x="391.50" y="601.98" font-size="7.2" text-anchor="middle" font-weight="bold" fill="#000" textLength="144.42" lengthAdjust="spacingAndGlyphs">PDI 12 Central Venous Catheter-Related BSI</text>
<text x="391.50" y="609.28" font-size="7.2" text-anchor="middle" font-weight="bold" fill="#000" textLength="61.23" lengthAdjust="spacingAndGlyphs">Stratified by Payor</text>
<line x1="318.20" y1="612.00" x2="318.20" y2="686.00" stroke="#1a1a1a" stroke-width="1.1"/>
<line x1="317.70" y1="683.00" x2="466.60" y2="683.00" stroke="#1a1a1a" stroke-width="1.1"/>
<line x1="318.20" y1="683.00" x2="318.20" y2="686.00" stroke="#1a1a1a" stroke-width="0.9"/>
<text x="318.20" y="692.84" font-size="6.5" text-anchor="middle" font-weight="bold" fill="#000" textLength="3.56" lengthAdjust="spacingAndGlyphs">0</text>
<line x1="367.50" y1="683.00" x2="367.50" y2="686.00" stroke="#1a1a1a" stroke-width="0.9"/>
<text x="367.50" y="692.84" font-size="6.5" text-anchor="middle" font-weight="bold" fill="#000" textLength="3.56" lengthAdjust="spacingAndGlyphs">1</text>
<line x1="416.80" y1="683.00" x2="416.80" y2="686.00" stroke="#1a1a1a" stroke-width="0.9"/>
<text x="416.80" y="692.84" font-size="6.5" text-anchor="middle" font-weight="bold" fill="#000" textLength="3.56" lengthAdjust="spacingAndGlyphs">2</text>
<line x1="466.10" y1="683.00" x2="466.10" y2="686.00" stroke="#1a1a1a" stroke-width="0.9"/>
<text x="466.10" y="692.84" font-size="6.5" text-anchor="middle" font-weight="bold" fill="#000" textLength="3.56" lengthAdjust="spacingAndGlyphs">3</text>
<line x1="367.50" y1="612.00" x2="367.50" y2="683.00" stroke="#333" stroke-width="1.0" stroke-dasharray="1 1.5"/>
<text x="392.15" y="704.01" font-size="7.0" text-anchor="middle" font-weight="bold" fill="#000" textLength="97.09" lengthAdjust="spacingAndGlyphs">Adjusted Odds Ratio (95% CI)</text>
<text x="392.15" y="712.01" font-size="7.0" text-anchor="middle" font-weight="bold" fill="#000" textLength="56.20" lengthAdjust="spacingAndGlyphs">Reference: White</text>
<text x="311.70" y="624.67" font-size="6.6" text-anchor="end" font-weight="bold" fill="#000" textLength="16.01" lengthAdjust="spacingAndGlyphs">Black</text>
<text x="311.70" y="640.57" font-size="6.6" text-anchor="end" font-weight="bold" fill="#000" textLength="25.01" lengthAdjust="spacingAndGlyphs">Hispanic</text>
<text x="311.70" y="660.17" font-size="6.6" text-anchor="end" font-weight="bold" fill="#000" textLength="69.69" lengthAdjust="spacingAndGlyphs">Asian or Pacific Islander</text>
<text x="311.70" y="676.27" font-size="6.6" text-anchor="end" font-weight="bold" fill="#000" textLength="16.00" lengthAdjust="spacingAndGlyphs">Other</text>
<line x1="372.00" y1="618.20" x2="395.50" y2="618.20" stroke="#dc8c8c" stroke-width="1.1"/>
<line x1="372.00" y1="617.10" x2="372.00" y2="619.30" stroke="#a06060" stroke-width="1.1"/>
<line x1="395.50" y1="617.10" x2="395.50" y2="619.30" stroke="#a06060" stroke-width="1.1"/>
<circle cx="383.10" cy="618.20" r="1.4" fill="#e3101c"/>
<line x1="357.50" y1="624.10" x2="394.50" y2="624.10" stroke="#4a4a4a" stroke-width="1.4"/>
<line x1="357.50" y1="623.00" x2="357.50" y2="625.20" stroke="#111" stroke-width="1.2"/>
<line x1="394.50" y1="623.00" x2="394.50" y2="625.20" stroke="#111" stroke-width="1.2"/>
<circle cx="373.00" cy="624.10" r="1.55" fill="#000"/>
<line x1="355.40" y1="635.50" x2="371.30" y2="635.50" stroke="#dc8c8c" stroke-width="1.1"/>
<line x1="355.40" y1="634.40" x2="355.40" y2="636.60" stroke="#a06060" stroke-width="1.1"/>
<line x1="371.30" y1="634.40" x2="371.30" y2="636.60" stroke="#a06060" stroke-width="1.1"/>
<circle cx="362.70" cy="635.50" r="1.4" fill="#e3101c"/>
<line x1="348.50" y1="641.10" x2="375.10" y2="641.10" stroke="#4a4a4a" stroke-width="1.4"/>
<line x1="348.50" y1="640.00" x2="348.50" y2="642.20" stroke="#111" stroke-width="1.2"/>
<line x1="375.10" y1="640.00" x2="375.10" y2="642.20" stroke="#111" stroke-width="1.2"/>
<circle cx="359.90" cy="641.10" r="1.55" fill="#000"/>
<line x1="346.00" y1="653.20" x2="387.90" y2="653.20" stroke="#dc8c8c" stroke-width="1.1"/>
<line x1="346.00" y1="652.10" x2="346.00" y2="654.30" stroke="#a06060" stroke-width="1.1"/>
<line x1="387.90" y1="652.10" x2="387.90" y2="654.30" stroke="#a06060" stroke-width="1.1"/>
<circle cx="362.00" cy="653.20" r="1.4" fill="#e3101c"/>
<line x1="334.30" y1="659.10" x2="365.40" y2="659.10" stroke="#4a4a4a" stroke-width="1.4"/>
<line x1="334.30" y1="658.00" x2="334.30" y2="660.20" stroke="#111" stroke-width="1.2"/>
<line x1="365.40" y1="658.00" x2="365.40" y2="660.20" stroke="#111" stroke-width="1.2"/>
<circle cx="346.00" cy="659.10" r="1.55" fill="#000"/>
<line x1="360.60" y1="670.80" x2="393.80" y2="670.80" stroke="#dc8c8c" stroke-width="1.1"/>
<line x1="360.60" y1="669.70" x2="360.60" y2="671.90" stroke="#a06060" stroke-width="1.1"/>
<line x1="393.80" y1="669.70" x2="393.80" y2="671.90" stroke="#a06060" stroke-width="1.1"/>
<circle cx="374.40" cy="670.80" r="1.4" fill="#e3101c"/>
<line x1="353.30" y1="676.70" x2="393.50" y2="676.70" stroke="#4a4a4a" stroke-width="1.4"/>
<line x1="353.30" y1="675.60" x2="353.30" y2="677.80" stroke="#111" stroke-width="1.2"/>
<line x1="393.50" y1="675.60" x2="393.50" y2="677.80" stroke="#111" stroke-width="1.2"/>
<circle cx="369.90" cy="676.70" r="1.55" fill="#000"/>
<circle cx="480.20" cy="637.70" r="1.2" fill="#e3101c"/>
<circle cx="480.20" cy="646.00" r="1.2" fill="#000"/>
<text x="489.80" y="640.18" font-size="7.2" text-anchor="start" font-weight="normal" fill="#111" textLength="26.81" lengthAdjust="spacingAndGlyphs">Medicaid</text>
<text x="489.80" y="648.48" font-size="7.2" text-anchor="start" font-weight="normal" fill="#111" textLength="20.85" lengthAdjust="spacingAndGlyphs">Private</text>
<text x="156.30" y="750.28" font-size="7.2" text-anchor="middle" font-weight="bold" fill="#000" textLength="130.92" lengthAdjust="spacingAndGlyphs">NQI 03 Neonatal Blood Stream Infection</text>
<line x1="82.40" y1="758.00" x2="82.40" y2="832.50" stroke="#1a1a1a" stroke-width="1.1"/>
<line x1="81.90" y1="829.50" x2="230.50" y2="829.50" stroke="#1a1a1a" stroke-width="1.1"/>
<line x1="82.40" y1="829.50" x2="82.40" y2="832.50" stroke="#1a1a1a" stroke-width="0.9"/>
<text x="82.40" y="840.04" font-size="6.5" text-anchor="middle" font-weight="bold" fill="#000" textLength="8.90" lengthAdjust="spacingAndGlyphs">0.0</text>
<line x1="111.92" y1="829.50" x2="111.92" y2="832.50" stroke="#1a1a1a" stroke-width="0.9"/>
<text x="111.92" y="840.04" font-size="6.5" text-anchor="middle" font-weight="bold" fill="#000" textLength="8.90" lengthAdjust="spacingAndGlyphs">0.5</text>
<line x1="141.44" y1="829.50" x2="141.44" y2="832.50" stroke="#1a1a1a" stroke-width="0.9"/>
<text x="141.44" y="840.04" font-size="6.5" text-anchor="middle" font-weight="bold" fill="#000" textLength="8.90" lengthAdjust="spacingAndGlyphs">1.0</text>
<line x1="170.96" y1="829.50" x2="170.96" y2="832.50" stroke="#1a1a1a" stroke-width="0.9"/>
<text x="170.96" y="840.04" font-size="6.5" text-anchor="middle" font-weight="bold" fill="#000" textLength="8.90" lengthAdjust="spacingAndGlyphs">1.5</text>
<line x1="200.48" y1="829.50" x2="200.48" y2="832.50" stroke="#1a1a1a" stroke-width="0.9"/>
<text x="200.48" y="840.04" font-size="6.5" text-anchor="middle" font-weight="bold" fill="#000" textLength="8.90" lengthAdjust="spacingAndGlyphs">2.0</text>
<line x1="230.00" y1="829.50" x2="230.00" y2="832.50" stroke="#1a1a1a" stroke-width="0.9"/>
<text x="230.00" y="840.04" font-size="6.5" text-anchor="middle" font-weight="bold" fill="#000" textLength="8.90" lengthAdjust="spacingAndGlyphs">2.5</text>
<line x1="141.44" y1="758.00" x2="141.44" y2="829.50" stroke="#333" stroke-width="1.0" stroke-dasharray="1 1.5"/>
<text x="156.20" y="850.61" font-size="7.0" text-anchor="middle" font-weight="bold" fill="#000" textLength="97.09" lengthAdjust="spacingAndGlyphs">Adjusted Odds Ratio (95% CI)</text>
<text x="156.20" y="858.91" font-size="7.0" text-anchor="middle" font-weight="bold" fill="#000" textLength="56.20" lengthAdjust="spacingAndGlyphs">Reference: White</text>
<text x="76.20" y="771.94" font-size="6.8" text-anchor="end" font-weight="bold" fill="#000" textLength="16.81" lengthAdjust="spacingAndGlyphs">Black</text>
<text x="76.20" y="788.24" font-size="6.8" text-anchor="end" font-weight="bold" fill="#000" textLength="26.26" lengthAdjust="spacingAndGlyphs">Hispanic</text>
<text x="76.20" y="804.84" font-size="6.8" text-anchor="end" font-weight="bold" fill="#000" textLength="73.18" lengthAdjust="spacingAndGlyphs">Asian or Pacific Islander</text>
<text x="76.20" y="820.74" font-size="6.8" text-anchor="end" font-weight="bold" fill="#000" textLength="16.80" lengthAdjust="spacingAndGlyphs">Other</text>
<line x1="142.40" y1="769.60" x2="158.30" y2="769.60" stroke="#6e6e6e" stroke-width="0.95"/>
<line x1="142.40" y1="768.10" x2="142.40" y2="771.10" stroke="#444" stroke-width="0.9"/>
<line x1="158.30" y1="768.10" x2="158.30" y2="771.10" stroke="#444" stroke-width="0.9"/>
<circle cx="149.60" cy="769.60" r="1.5" fill="#000"/>
<line x1="152.10" y1="785.90" x2="171.50" y2="785.90" stroke="#6e6e6e" stroke-width="0.95"/>
<line x1="152.10" y1="784.40" x2="152.10" y2="787.40" stroke="#444" stroke-width="0.9"/>
<line x1="171.50" y1="784.40" x2="171.50" y2="787.40" stroke="#444" stroke-width="0.9"/>
<circle cx="160.70" cy="785.90" r="1.5" fill="#000"/>
<line x1="139.30" y1="801.80" x2="170.80" y2="801.80" stroke="#6e6e6e" stroke-width="0.95"/>
<line x1="139.30" y1="800.30" x2="139.30" y2="803.30" stroke="#444" stroke-width="0.9"/>
<line x1="170.80" y1="800.30" x2="170.80" y2="803.30" stroke="#444" stroke-width="0.9"/>
<circle cx="152.80" cy="801.80" r="1.5" fill="#000"/>
<line x1="144.80" y1="818.40" x2="169.70" y2="818.40" stroke="#6e6e6e" stroke-width="0.95"/>
<line x1="144.80" y1="816.90" x2="144.80" y2="819.90" stroke="#444" stroke-width="0.9"/>
<line x1="169.70" y1="816.90" x2="169.70" y2="819.90" stroke="#444" stroke-width="0.9"/>
<circle cx="156.20" cy="818.40" r="1.5" fill="#000"/>
<text x="392.50" y="748.18" font-size="7.2" text-anchor="middle" font-weight="bold" fill="#000" textLength="130.92" lengthAdjust="spacingAndGlyphs">NQI 03 Neonatal Blood Stream Infection</text>
<text x="392.50" y="756.48" font-size="7.2" text-anchor="middle" font-weight="bold" fill="#000" textLength="61.23" lengthAdjust="spacingAndGlyphs">Stratified by Payor</text>
<line x1="318.20" y1="758.50" x2="318.20" y2="832.30" stroke="#1a1a1a" stroke-width="1.1"/>
<line x1="317.70" y1="829.30" x2="466.60" y2="829.30" stroke="#1a1a1a" stroke-width="1.1"/>
<line x1="318.20" y1="829.30" x2="318.20" y2="832.30" stroke="#1a1a1a" stroke-width="0.9"/>
<text x="318.20" y="840.04" font-size="6.5" text-anchor="middle" font-weight="bold" fill="#000" textLength="3.56" lengthAdjust="spacingAndGlyphs">0</text>
<line x1="367.50" y1="829.30" x2="367.50" y2="832.30" stroke="#1a1a1a" stroke-width="0.9"/>
<text x="367.50" y="840.04" font-size="6.5" text-anchor="middle" font-weight="bold" fill="#000" textLength="3.56" lengthAdjust="spacingAndGlyphs">1</text>
<line x1="416.80" y1="829.30" x2="416.80" y2="832.30" stroke="#1a1a1a" stroke-width="0.9"/>
<text x="416.80" y="840.04" font-size="6.5" text-anchor="middle" font-weight="bold" fill="#000" textLength="3.56" lengthAdjust="spacingAndGlyphs">2</text>
<line x1="466.10" y1="829.30" x2="466.10" y2="832.30" stroke="#1a1a1a" stroke-width="0.9"/>
<text x="466.10" y="840.04" font-size="6.5" text-anchor="middle" font-weight="bold" fill="#000" textLength="3.56" lengthAdjust="spacingAndGlyphs">3</text>
<line x1="367.50" y1="758.50" x2="367.50" y2="829.30" stroke="#333" stroke-width="1.0" stroke-dasharray="1 1.5"/>
<text x="392.15" y="850.61" font-size="7.0" text-anchor="middle" font-weight="bold" fill="#000" textLength="97.09" lengthAdjust="spacingAndGlyphs">Adjusted Odds Ratio (95% CI)</text>
<text x="392.15" y="858.51" font-size="7.0" text-anchor="middle" font-weight="bold" fill="#000" textLength="56.20" lengthAdjust="spacingAndGlyphs">Reference: White</text>
<text x="311.70" y="770.57" font-size="6.6" text-anchor="end" font-weight="bold" fill="#000" textLength="16.01" lengthAdjust="spacingAndGlyphs">Black</text>
<text x="311.70" y="787.47" font-size="6.6" text-anchor="end" font-weight="bold" fill="#000" textLength="25.01" lengthAdjust="spacingAndGlyphs">Hispanic</text>
<text x="311.70" y="805.87" font-size="6.6" text-anchor="end" font-weight="bold" fill="#000" textLength="69.69" lengthAdjust="spacingAndGlyphs">Asian or Pacific Islander</text>
<text x="311.70" y="822.57" font-size="6.6" text-anchor="end" font-weight="bold" fill="#000" textLength="16.00" lengthAdjust="spacingAndGlyphs">Other</text>
<line x1="369.20" y1="764.80" x2="388.30" y2="764.80" stroke="#dc8c8c" stroke-width="1.1"/>
<line x1="369.20" y1="763.70" x2="369.20" y2="765.90" stroke="#a06060" stroke-width="1.1"/>
<line x1="388.30" y1="763.70" x2="388.30" y2="765.90" stroke="#a06060" stroke-width="1.1"/>
<circle cx="378.20" cy="764.80" r="1.4" fill="#e3101c"/>
<line x1="359.50" y1="770.30" x2="381.30" y2="770.30" stroke="#4a4a4a" stroke-width="1.4"/>
<line x1="359.50" y1="769.20" x2="359.50" y2="771.40" stroke="#111" stroke-width="1.2"/>
<line x1="381.30" y1="769.20" x2="381.30" y2="771.40" stroke="#111" stroke-width="1.2"/>
<circle cx="368.90" cy="770.30" r="1.55" fill="#000"/>
<line x1="376.80" y1="782.10" x2="400.70" y2="782.10" stroke="#dc8c8c" stroke-width="1.1"/>
<line x1="376.80" y1="781.00" x2="376.80" y2="783.20" stroke="#a06060" stroke-width="1.1"/>
<line x1="400.70" y1="781.00" x2="400.70" y2="783.20" stroke="#a06060" stroke-width="1.1"/>
<circle cx="387.90" cy="782.10" r="1.4" fill="#e3101c"/>
<line x1="369.60" y1="788.30" x2="396.60" y2="788.30" stroke="#4a4a4a" stroke-width="1.4"/>
<line x1="369.60" y1="787.20" x2="369.60" y2="789.40" stroke="#111" stroke-width="1.2"/>
<line x1="396.60" y1="787.20" x2="396.60" y2="789.40" stroke="#111" stroke-width="1.2"/>
<circle cx="381.70" cy="788.30" r="1.55" fill="#000"/>
<line x1="352.30" y1="799.70" x2="399.70" y2="799.70" stroke="#dc8c8c" stroke-width="1.1"/>
<line x1="352.30" y1="798.60" x2="352.30" y2="800.80" stroke="#a06060" stroke-width="1.1"/>
<line x1="399.70" y1="798.60" x2="399.70" y2="800.80" stroke="#a06060" stroke-width="1.1"/>
<circle cx="370.60" cy="799.70" r="1.4" fill="#e3101c"/>
<line x1="364.40" y1="805.60" x2="398.60" y2="805.60" stroke="#4a4a4a" stroke-width="1.4"/>
<line x1="364.40" y1="804.50" x2="364.40" y2="806.70" stroke="#111" stroke-width="1.2"/>
<line x1="398.60" y1="804.50" x2="398.60" y2="806.70" stroke="#111" stroke-width="1.2"/>
<circle cx="379.30" cy="805.60" r="1.55" fill="#000"/>
<line x1="367.50" y1="817.40" x2="395.50" y2="817.40" stroke="#dc8c8c" stroke-width="1.1"/>
<line x1="367.50" y1="816.30" x2="367.50" y2="818.50" stroke="#a06060" stroke-width="1.1"/>
<line x1="395.50" y1="816.30" x2="395.50" y2="818.50" stroke="#a06060" stroke-width="1.1"/>
<circle cx="380.00" cy="817.40" r="1.4" fill="#e3101c"/>
<line x1="369.60" y1="823.30" x2="402.50" y2="823.30" stroke="#4a4a4a" stroke-width="1.4"/>
<line x1="369.60" y1="822.20" x2="369.60" y2="824.40" stroke="#111" stroke-width="1.2"/>
<line x1="402.50" y1="822.20" x2="402.50" y2="824.40" stroke="#111" stroke-width="1.2"/>
<circle cx="383.80" cy="823.30" r="1.55" fill="#000"/>
<circle cx="480.20" cy="784.40" r="1.2" fill="#e3101c"/>
<circle cx="480.20" cy="792.50" r="1.2" fill="#000"/>
<text x="489.80" y="786.88" font-size="7.2" text-anchor="start" font-weight="normal" fill="#111" textLength="26.81" lengthAdjust="spacingAndGlyphs">Medicaid</text>
<text x="489.80" y="794.98" font-size="7.2" text-anchor="start" font-weight="normal" fill="#111" textLength="20.85" lengthAdjust="spacingAndGlyphs">Private</text>
</svg>
</body></html>
